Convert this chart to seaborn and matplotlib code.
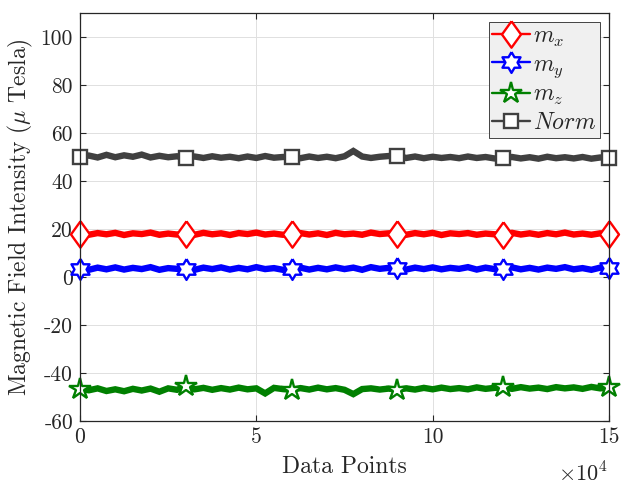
import numpy as np
import pandas as pd
import matplotlib
matplotlib.use("Agg")
import matplotlib.pyplot as plt
import seaborn as sns
from matplotlib.lines import Line2D

# ---------------- data ----------------
x_points = [i * 2500 for i in range(61)]

m_x = [18.0, 17.6, 18.3, 17.8, 18.4, 17.5, 18.2, 17.9, 18.5, 17.6, 18.1, 17.7,
       18.0, 17.6, 18.4, 17.8, 18.2, 17.5, 18.3, 17.9, 18.5, 17.7, 18.1, 17.6,
       17.9, 18.3, 17.7, 18.2, 17.5, 18.4, 17.8, 18.1, 17.6, 18.5, 17.9, 18.2,
       18.1, 17.6, 18.3, 17.8, 18.4, 17.5, 18.2, 17.9, 18.3, 17.6, 18.1, 17.8,
       17.7, 18.4, 17.7, 18.2, 17.6, 18.3, 17.8, 18.5, 17.7, 18.1, 17.6, 18.2,
       18.0]
m_y = [3.5, 3.0, 3.9, 3.2, 4.0, 3.1, 3.8, 3.3, 4.1, 3.0, 3.7, 3.4,
       3.4, 3.0, 3.9, 3.3, 4.0, 3.1, 3.8, 3.2, 4.1, 3.3, 3.7, 3.0,
       3.5, 3.9, 3.1, 3.8, 3.2, 4.0, 3.3, 3.9, 3.0, 4.1, 3.4, 3.8,
       3.6, 3.1, 3.9, 3.3, 4.0, 3.2, 3.8, 3.4, 4.1, 3.1, 3.9, 3.3,
       3.5, 4.0, 3.2, 3.8, 3.1, 3.9, 3.4, 4.1, 3.2, 3.7, 3.0, 3.9,
       3.6]
m_z = [-46.5, -47.2, -46.4, -47.5, -46.8, -47.6, -46.6, -47.3, -46.5, -47.8, -46.4, -47.0,
       -45.5, -46.8, -46.2, -47.0, -46.3, -46.9, -46.1, -46.8, -46.4, -48.5, -46.2, -46.7,
       -47.0, -46.3, -46.9, -46.1, -46.8, -46.3, -47.0, -48.8, -46.7, -46.4, -46.9, -46.5,
       -47.0, -46.4, -46.9, -46.2, -46.8, -46.1, -46.7, -46.3, -46.8, -46.0, -46.6, -46.2,
       -46.0, -46.6, -45.9, -46.5, -46.1, -46.7, -45.9, -46.4, -46.0, -46.6, -45.8, -46.4,
       -46.0]
norm = [50.0, 50.6, 49.8, 50.9, 49.9, 50.7, 50.1, 51.0, 49.8, 50.5, 49.9, 50.3,
        49.5, 50.2, 49.6, 50.3, 49.7, 50.1, 49.5, 50.2, 49.6, 50.4, 49.7, 50.0,
        50.0, 49.5, 50.2, 49.6, 50.1, 49.5, 50.3, 52.5, 50.2, 49.6, 50.1, 50.4,
        50.5, 49.6, 50.2, 49.5, 50.1, 49.6, 50.0, 49.5, 50.2, 49.6, 50.0, 49.4,
        49.5, 50.0, 49.4, 49.9, 49.3, 50.1, 49.5, 49.9, 49.4, 50.0, 49.3, 49.8,
        49.5]

series_labels = [r"$m_x$", r"$m_y$", r"$m_z$", r"$Norm$"]
x_ticks = [0, 50000, 100000, 150000]
x_tick_labels = ["0", "5", "10", "15"]
y_ticks = [-60, -40, -20, 0, 20, 40, 60, 80, 100]

# ---------------- style ----------------
sns.set_theme(style="white")
plt.rcParams["font.family"] = ["cmr10", "DejaVu Serif"]
plt.rcParams["mathtext.fontset"] = "cm"
plt.rcParams["axes.unicode_minus"] = False
plt.rcParams["axes.formatter.use_mathtext"] = True

dark = (0.15, 0.15, 0.15)

# custom markers
diamond = [(0, 1), (0.72, 0), (0, -1), (-0.72, 0), (0, 1)]
hexa = []
for k in range(12):
    ang = np.pi / 2 + k * np.pi / 6
    r = 1.0 if k % 2 == 0 else 0.58
    hexa.append((r * np.cos(ang), r * np.sin(ang)))
hexa.append(hexa[0])

styles = [
    dict(color=(1, 0, 0), marker=diamond, ms=19),
    dict(color=(0, 0, 1), marker=hexa, ms=15),
    dict(color=(0, 0.5, 0), marker="*", ms=16),
    dict(color=(0.25, 0.25, 0.25), marker="s", ms=10),
]

fig = plt.figure(figsize=(6.24, 4.84), dpi=100)
ax = fig.add_axes([80 / 624, 1 - 421 / 484, (609 - 80) / 624, (421 - 13) / 484])

handles = []
for vals, lab, st in zip([m_x, m_y, m_z, norm], series_labels, styles):
    df = pd.DataFrame({"x": x_points, "y": vals})
    sns.lineplot(data=df, x="x", y="y", ax=ax, estimator=None, sort=False,
                 color=st["color"], linewidth=4.6, marker=st["marker"],
                 markersize=st["ms"], markevery=12, markerfacecolor="white",
                 markeredgecolor=st["color"], markeredgewidth=1.7, clip_on=False,
                 solid_joinstyle="miter")
    handles.append(Line2D([0], [0], color=st["color"], linewidth=1.7,
                          marker=st["marker"], markersize=st["ms"],
                          markerfacecolor="white", markeredgecolor=st["color"],
                          markeredgewidth=1.7, label=lab))

ax.set_xlim(0, 150000)
ax.set_ylim(-60, 110)
ax.set_xticks(x_ticks)
ax.set_xticklabels(x_tick_labels)
ax.set_yticks(y_ticks)
ax.set_yticklabels([str(v) for v in y_ticks])

ax.grid(True, color=(0.88, 0.88, 0.88), linewidth=0.7)
for sp in ax.spines.values():
    sp.set_visible(True)
    sp.set_color(dark)
    sp.set_linewidth(0.9)
ax.tick_params(direction="in", length=4, width=0.8, colors=dark,
               labelsize=15.5, top=True, right=True, bottom=True, left=True, pad=5)
for t in ax.get_xticklabels() + ax.get_yticklabels():
    t.set_color(dark)

ax.set_xlabel("Data Points", fontsize=17, color=dark)
ax.set_ylabel(r"Magnetic Field Intensity ($\mu$ Tesla)", fontsize=17, color=dark)
ax.xaxis.set_label_coords(0.5, -0.085)
ax.yaxis.set_label_coords(-0.085, 0.5)
fig.text(608 / 624, 1 - 481 / 484, r"$\times10^4$", ha="right",
         va="baseline", fontsize=16, color=dark)

leg = ax.legend(handles=handles, loc="upper right", fontsize=17,
                fancybox=False, frameon=True, handlelength=1.6,
                borderaxespad=0.38, labelspacing=0.2, handletextpad=0.15,
                borderpad=0.15, bbox_to_anchor=(1.0, 1.0))
leg.get_frame().set_facecolor((0.94, 0.94, 0.94))
leg.get_frame().set_edgecolor(dark)
leg.get_frame().set_linewidth(0.6)
leg.get_frame().set_alpha(1.0)

fig.savefig("out.png", dpi=100)
